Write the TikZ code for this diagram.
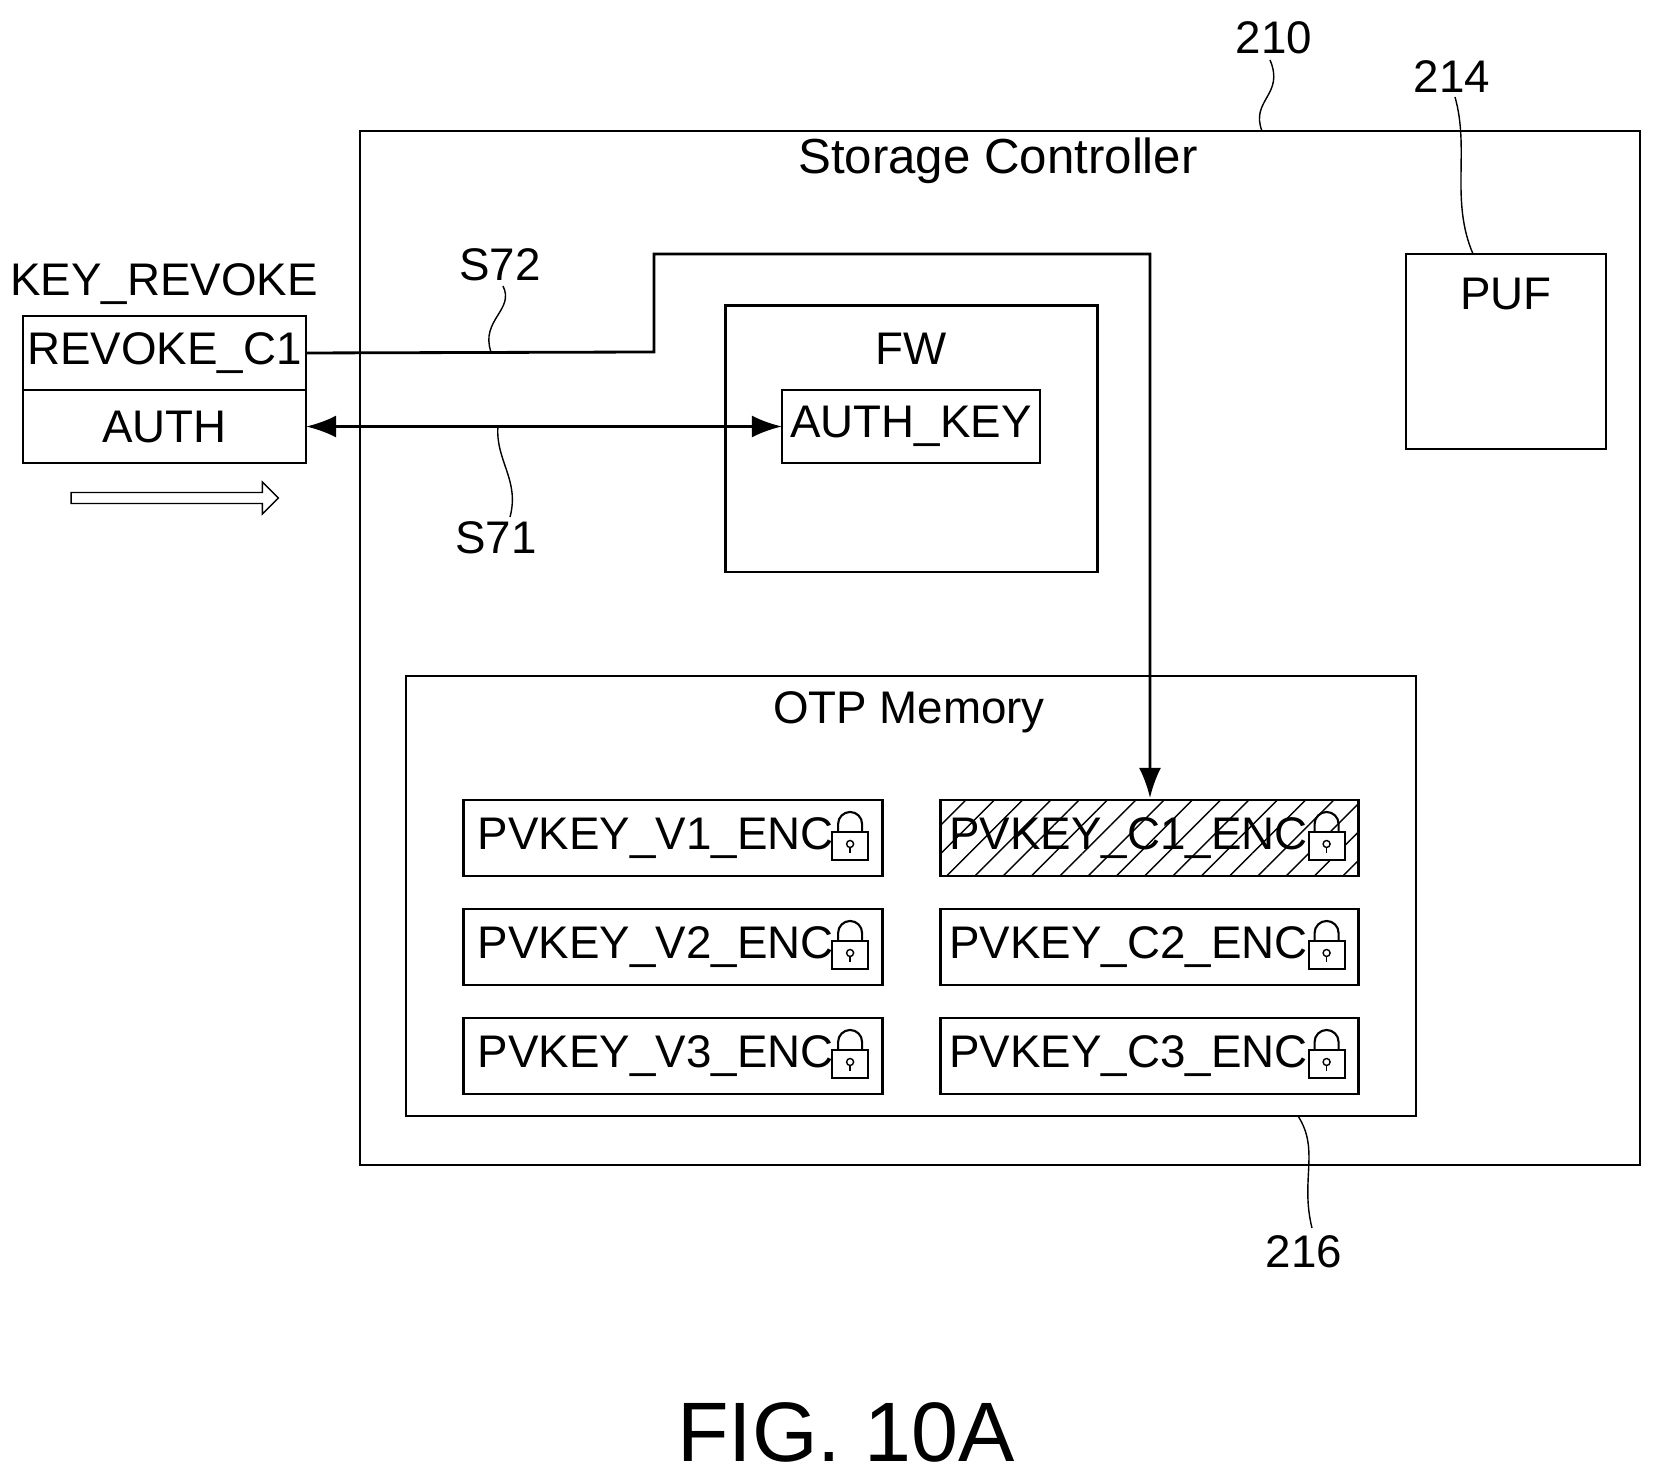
\documentclass[tikz,border=0pt]{standalone}
\usepackage{fontspec}
\setmainfont{Liberation Sans}
\usetikzlibrary{positioning,patterns.meta,arrows.meta,shapes.arrows}

\tikzset{
  box/.style={draw,thick,inner sep=0pt,outer sep=0pt},
  key/.style={box,minimum width=4.18cm,minimum height=0.76cm,font=\fontsize{13}{15}\selectfont,text width=4.0cm,align=left},
  lbl/.style={font=\fontsize{13}{15}\selectfont},
  squig/.style={thin},
  lock/.pic={
    \draw[semithick,fill=white] (-18,-6) rectangle (18,22);
    \draw[semithick] (-12,-6) -- (-12,-14) arc (180:360:12) -- (12,-6);
    \draw[thin] (0,6) circle (3.5);
    \draw[thin] (0,9.5) -- (0,15);
  }
}

\begin{document}
\begin{tikzpicture}[x=0.01cm,y=-0.01cm]
  \useasboundingbox (0,0) rectangle (1653,1483);
  % storage controller
  \draw[thick] (360,131) rectangle (1640,1165);
  \node[font=\fontsize{14}{16}\selectfont] (sc) at (998,161) {Storage Controller};
  \node[lbl] (n210) at (1274,38) {210};
  \draw[squig] (1262,131) .. controls (1250,100) and (1285,95) .. (1270,60);
  % puf
  \node[box,minimum width=2cm,minimum height=1.95cm] (puf) at (1506,351.5) {};
  \node[lbl,below=0.12cm of puf.north] (puft) {PUF};
  \node[lbl] (n214) at (1452,77) {214};
  \draw[squig] (puf.north) ++(-33,0) .. controls (1450,200) and (1470,150) .. (1455,97);
  % firmware
  \node[box,minimum width=3.71cm,minimum height=2.66cm] (fw) at (911.5,439) {};
  \node[lbl,below=0.15cm of fw.north] (fwt) {FW};
  \node[box,lbl,minimum width=2.58cm,minimum height=0.73cm] (authkey) at (911,426.5) {AUTH\_KEY};
  % host side
  \node[lbl] (kr) at (164,284) {KEY\_REVOKE};
  \node[box,lbl,minimum width=2.83cm,minimum height=0.74cm] (rc1) at (164.5,353) {REVOKE\_C1};
  \node[box,lbl,minimum width=2.83cm,minimum height=0.73cm,anchor=north] (auth) at (rc1.south) {AUTH};
  \node[draw,single arrow,thin,minimum height=2.07cm,minimum width=0.32cm,single arrow head extend=0.08cm,inner sep=1pt] (flow) at (172,498) {};
  % otp memory
  \draw[thick] (406,676) rectangle (1416,1116);
  \node[lbl] (otp) at (909,712) {OTP Memory};
  \node[lbl] (n216) at (1304,1252) {216};
  \draw[squig] (1298,1116) .. controls (1320,1150) and (1300,1180) .. (1312,1228);
  \foreach \v/\y in {1/838,2/947,3/1056}{
    \node[key] (v\v) at (673,\y) {\hspace{0.05cm}PVKEY\_V\v\_ENC};
    \pic at ([xshift=-0.32cm]v\v.east) {lock};
  }
  \node[key,pattern={Lines[angle=45,distance=0.2cm,line width=0.4pt]}] (c1) at (1149.5,838) {PVKEY\_C1\_ENC};
  \pic at ([xshift=-0.32cm]c1.east) {lock};
  \foreach \v/\y in {2/947,3/1056}{
    \node[key] (c\v) at (1149.5,\y) {PVKEY\_C\v\_ENC};
    \pic at ([xshift=-0.32cm]c\v.east) {lock};
  }
  % connectors
  \draw[thick,-{Latex[length=0.3cm,width=0.22cm]}] (rc1.east) -- (654,352) -- (654,254) -- (1150,254) -- (1150,798);
  \draw[thick,{Latex[length=0.3cm,width=0.22cm]}-{Latex[length=0.3cm,width=0.22cm]}] (auth.east) -- (authkey.west);
  \node[lbl] (s72) at (500,265) {S72};
  \draw[squig] (491,352) .. controls (480,320) and (515,310) .. (503,286);
  \node[lbl] (s71) at (496,538) {S71};
  \draw[squig] (498,426) .. controls (495,460) and (520,480) .. (510,517);
  \node[font=\fontsize{24}{27}\selectfont] (fig) at (846,1432) {FIG. 10A};
\end{tikzpicture}
\end{document}
